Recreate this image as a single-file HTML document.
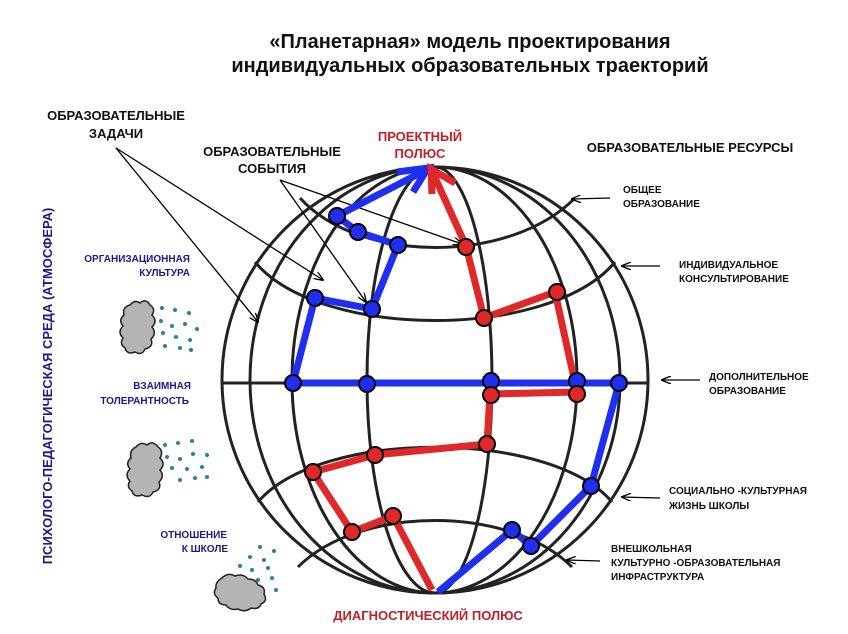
<!DOCTYPE html>
<html><head><meta charset="utf-8"><style>
html,body{margin:0;padding:0;background:#fff;}
svg{display:block;}
text{font-family:"Liberation Sans","DejaVu Sans",sans-serif;font-weight:bold;}
</style></head><body>
<svg width="848" height="634" viewBox="0 0 848 634" xmlns="http://www.w3.org/2000/svg">
<defs>
<marker id="ah" markerWidth="10" markerHeight="8" refX="9" refY="4" orient="auto" markerUnits="userSpaceOnUse">
<path d="M0,0 L10,4 L0,8" fill="none" stroke="#000" stroke-width="1.3"/>
</marker>
</defs>
<text x="470" y="48" font-size="20" text-anchor="middle" fill="#111">«Планетарная» модель проектирования</text>
<text x="470" y="72" font-size="20" text-anchor="middle" fill="#111">индивидуальных образовательных траекторий</text>

<text x="116" y="120" font-size="13" text-anchor="middle" fill="#111">ОБРАЗОВАТЕЛЬНЫЕ</text>
<text x="116" y="138" font-size="13" text-anchor="middle" fill="#111">ЗАДАЧИ</text>
<text x="272" y="156" font-size="13" text-anchor="middle" fill="#111">ОБРАЗОВАТЕЛЬНЫЕ</text>
<text x="272" y="173" font-size="13" text-anchor="middle" fill="#111">СОБЫТИЯ</text>
<text x="420" y="141" font-size="13" text-anchor="middle" fill="#c0202a">ПРОЕКТНЫЙ</text>
<text x="420" y="158" font-size="13" text-anchor="middle" fill="#c0202a">ПОЛЮС</text>
<text x="690" y="152" font-size="13" text-anchor="middle" fill="#111">ОБРАЗОВАТЕЛЬНЫЕ РЕСУРСЫ</text>
<text x="428" y="620" font-size="13" text-anchor="middle" fill="#c0202a">ДИАГНОСТИЧЕСКИЙ ПОЛЮС</text>

<g font-size="10" fill="#111">
<text x="623" y="193">ОБЩЕЕ</text>
<text x="623" y="207">ОБРАЗОВАНИЕ</text>
<text x="679" y="268">ИНДИВИДУАЛЬНОЕ</text>
<text x="679" y="282">КОНСУЛЬТИРОВАНИЕ</text>
<text x="709" y="380">ДОПОЛНИТЕЛЬНОЕ</text>
<text x="709" y="394">ОБРАЗОВАНИЕ</text>
<text x="669" y="494">СОЦИАЛЬНО -КУЛЬТУРНАЯ</text>
<text x="669" y="509">ЖИЗНЬ ШКОЛЫ</text>
<text x="611" y="552">ВНЕШКОЛЬНАЯ</text>
<text x="611" y="566">КУЛЬТУРНО -ОБРАЗОВАТЕЛЬНАЯ</text>
<text x="611" y="580">ИНФРАСТРУКТУРА</text>
</g>
<g font-size="10" fill="#1a1a8c" text-anchor="end">
<text x="190" y="262">ОРГАНИЗАЦИОННАЯ</text>
<text x="190" y="276">КУЛЬТУРА</text>
<text x="191" y="389">ВЗАИМНАЯ</text>
<text x="189" y="404">ТОЛЕРАНТНОСТЬ</text>
<text x="227" y="538">ОТНОШЕНИЕ</text>
<text x="228" y="552">К ШКОЛЕ</text>
</g>
<text transform="translate(52,386) rotate(-90)" font-size="13" text-anchor="middle" fill="#1a1a8c">ПСИХОЛОГО-ПЕДАГОГИЧЕСКАЯ СРЕДА (АТМОСФЕРА)</text>

<g fill="none" stroke="#222" stroke-width="3">
<circle cx="435" cy="380" r="213"/>
<path d="M435 167 A185 213 0 0 0 435 593"/>
<path d="M435 167 A143 213 0 0 0 435 593"/>
<path d="M435 167 A68 213 0 0 0 435 593"/>
<path d="M435 167 A57 213 0 0 1 435 593"/>
<path d="M435 167 A142 213 0 0 1 435 593"/>
<path d="M435 167 A185 213 0 0 1 435 593"/>
<line x1="222" y1="383" x2="648" y2="383"/>
<path d="M300 198 C360 264, 510 264, 575 198"/>
<path d="M255 262 C320 340, 550 340, 615 262"/>
<path d="M258 502 C320 429, 550 429, 612 502"/>
<path d="M298 567 C360 505, 510 505, 572 567"/>
</g>

<g stroke="#000" stroke-width="1.3" fill="none" marker-end="url(#ah)">
<line x1="116" y1="148" x2="258" y2="322"/>
<line x1="116" y1="148" x2="323" y2="280"/>
<line x1="280" y1="180" x2="366" y2="302"/>
<line x1="280" y1="180" x2="462" y2="244"/>
<line x1="610" y1="198" x2="572" y2="199"/>
<line x1="660" y1="266" x2="622" y2="266"/>
<line x1="700" y1="380" x2="662" y2="380"/>
<line x1="660" y1="498" x2="622" y2="497"/>
<line x1="600" y1="561" x2="567" y2="560"/>
</g>

<g fill="none" stroke="#1f2ff0" stroke-width="7" stroke-linejoin="miter" stroke-linecap="butt">
<polyline points="337,216 426,170"/>
<polyline points="397,172 428,168 413,192"/>
<polyline points="337,216 358,232 398,245 372,309 315,298 293,383 619,383 591,486 531,546 512,530 438,592" stroke-linejoin="round"/>
</g>
<g fill="none" stroke="#e02828" stroke-width="7" stroke-linejoin="miter">
<polyline points="466,246 432,171"/>
<polyline points="432,194 431,169 455,183"/>
<polyline points="466,246 484,318 555,292 577,392 490,394 487,444 375,455 313,472 352,532 393,516 432,590" stroke-linejoin="round"/>
</g>

<g stroke="#000" stroke-width="2" fill="#1f2ff0">
<circle cx="337" cy="216" r="8"/><circle cx="358" cy="232" r="8"/><circle cx="398" cy="245" r="8"/>
<circle cx="315" cy="298" r="8"/><circle cx="372" cy="309" r="8"/><circle cx="293" cy="383" r="8"/>
<circle cx="367" cy="384" r="8"/><circle cx="491" cy="381" r="8"/><circle cx="577" cy="381" r="8"/>
<circle cx="619" cy="383" r="8"/><circle cx="591" cy="486" r="8"/><circle cx="512" cy="530" r="8"/>
<circle cx="531" cy="546" r="8"/>
</g>
<g stroke="#000" stroke-width="2" fill="#e02828">
<circle cx="466" cy="247" r="8"/><circle cx="484" cy="318" r="8"/><circle cx="557" cy="292" r="8"/>
<circle cx="577" cy="394" r="8"/><circle cx="491" cy="395" r="8"/><circle cx="487" cy="444" r="8"/>
<circle cx="375" cy="455" r="8"/><circle cx="313" cy="472" r="8"/><circle cx="352" cy="532" r="8"/>
<circle cx="393" cy="516" r="8"/>
</g>

<g fill="#b4b4b4" stroke="#222" stroke-width="1.5">
<path d="M130 305 q5 -6 10 -2 q6 -5 10 2 q6 4 2 10 q6 6 0 12 q5 6 -1 12 q3 8 -6 10 q-3 7 -10 3 q-8 3 -10 -4 q-6 -4 -2 -10 q-6 -6 0 -12 q-5 -6 1 -11 q-2 -8 6 -10z"/>
<path d="M136 447 q5 -6 11 -2 q6 -5 11 2 q6 4 2 11 q6 6 0 12 q5 6 -1 12 q3 8 -6 10 q-3 7 -11 3 q-8 3 -10 -4 q-6 -4 -2 -10 q-6 -6 0 -12 q-5 -6 1 -11 q-2 -8 5 -11z"/>
<path d="M222 578 q6 -6 13 -2 q8 -3 13 3 q8 0 10 6 q8 2 6 9 q4 7 -3 10 q-2 6 -10 4 q-6 5 -13 1 q-8 2 -12 -4 q-8 0 -8 -7 q-6 -4 -2 -10 q-1 -6 6 -10z"/>
</g>
<g fill="#2a7fa8">
<circle cx="162" cy="308" r="2"/><circle cx="175" cy="310" r="2"/><circle cx="189" cy="313" r="2"/>
<circle cx="161" cy="321" r="2"/><circle cx="172" cy="326" r="2"/><circle cx="185" cy="324" r="2"/><circle cx="197" cy="329" r="2"/>
<circle cx="163" cy="333" r="2"/><circle cx="176" cy="337" r="2"/><circle cx="190" cy="340" r="2"/>
<circle cx="165" cy="346" r="2"/><circle cx="180" cy="348" r="2"/><circle cx="191" cy="350" r="2"/>
<circle cx="165" cy="445" r="2"/><circle cx="178" cy="443" r="2"/><circle cx="192" cy="441" r="2"/>
<circle cx="167" cy="457" r="2"/><circle cx="180" cy="459" r="2"/><circle cx="193" cy="454" r="2"/><circle cx="207" cy="455" r="2"/>
<circle cx="172" cy="468" r="2"/><circle cx="187" cy="469" r="2"/><circle cx="202" cy="467" r="2"/>
<circle cx="180" cy="480" r="2"/><circle cx="195" cy="478" r="2"/><circle cx="207" cy="477" r="2"/>
<circle cx="260" cy="547" r="2"/><circle cx="274" cy="551" r="2"/><circle cx="250" cy="557" r="2"/><circle cx="264" cy="560" r="2"/>
<circle cx="240" cy="566" r="2"/><circle cx="252" cy="570" r="2"/><circle cx="268" cy="568" r="2"/>
<circle cx="258" cy="580" r="2"/><circle cx="272" cy="578" r="2"/><circle cx="276" cy="590" r="2"/>
</g>
</svg>
</body></html>
